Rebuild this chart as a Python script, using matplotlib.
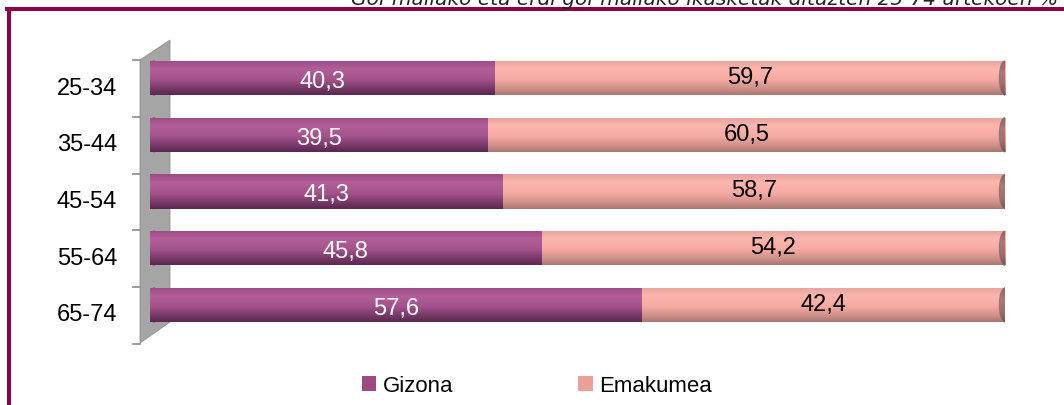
import numpy as np
import matplotlib
matplotlib.use('Agg')
import matplotlib.pyplot as plt
from matplotlib.patches import Ellipse, Polygon, Patch
from matplotlib.colors import LinearSegmentedColormap
from matplotlib.lines import Line2D
from matplotlib import font_manager
import matplotlib.transforms as mtransforms

categories = ['25-34', '35-44', '45-54', '55-64', '65-74']
gizona = [40.3, 39.5, 41.3, 45.8, 57.6]
emakumea = [59.7, 60.5, 58.7, 54.2, 42.4]
series_names = ['Gizona', 'Emakumea']
title = 'Goi-mailako eta erdi goi-mailako ikasketak dituzten 25-74 urtekoen %'

names = {f.name for f in font_manager.fontManager.ttflist}
narrow = 'Liberation Sans Narrow' if 'Liberation Sans Narrow' in names else 'Liberation Sans'

W, H = 1064, 405
fig = plt.figure(figsize=(W / 100, H / 100), dpi=100)


def fx(px):
    return px / W


def fy(py):
    return 1 - py / H


ax = fig.add_axes([fx(150), fy(343), fx(1005) - fx(150), (343 - 40) / H])
ax.axis('off')

purple_cmap = LinearSegmentedColormap.from_list(
    'p', [(0, '#9A4C84'), (0.25, '#B35E98'), (0.55, '#A3538C'), (0.85, '#723563'), (1, '#5A2850')])
pink_cmap = LinearSegmentedColormap.from_list(
    'k', [(0, '#E4A49C'), (0.25, '#FDB6AE'), (0.55, '#F5AAA2'), (0.85, '#C98C85'), (1, '#A87670')])
cap_cmap = LinearSegmentedColormap.from_list(
    'c', [(0, '#8E625E'), (0.35, '#A67A75'), (0.7, '#9C706B'), (1, '#7A5450')])

grad = np.linspace(0, 1, 120).reshape(-1, 1)

y = np.arange(len(categories))
bh = 0.6
b1 = ax.barh(y, gizona, height=bh, color='#A8558F', zorder=3)
b2 = ax.barh(y, emakumea, left=gizona, height=bh, color='#F8ADA5', zorder=3)


def shade(patch, cmap, x0, x1, y0, y1, z):
    im = ax.imshow(grad, cmap=cmap, extent=(x0, x1, y1, y0), origin='upper',
                   aspect='auto', zorder=z, interpolation='bilinear')
    im.set_clip_path(patch)
    im.set_clip_on(True)


for bars, cmap in ((b1, purple_cmap), (b2, pink_cmap)):
    for p in bars:
        shade(p, cmap, p.get_x(), p.get_x() + p.get_width(), p.get_y(), p.get_y() + p.get_height(), 3.5)

cap_w = 1.3
for i in range(len(categories)):
    # left rounded end
    le = Ellipse((0.45, y[i]), width=0.9, height=bh, color='#A8558F', zorder=3.2)
    ax.add_patch(le)
    shade(le, purple_cmap, 0, 0.9, y[i] - bh / 2, y[i] + bh / 2, 3.3)
    # right cap
    total = gizona[i] + emakumea[i]
    re = Ellipse((total, y[i]), width=cap_w, height=bh, color='#A07470', zorder=3.8)
    ax.add_patch(re)
    shade(re, cap_cmap, total - cap_w / 2, total + cap_w / 2, y[i] - bh / 2, y[i] + bh / 2, 3.9)

ax.set_xlim(0, 100)
ax.set_ylim(4.67, -0.67)

# grey wall
wall = Polygon([(fx(140), fy(60)), (fx(170), fy(40)), (fx(170), fy(322)), (fx(140), fy(343))],
               closed=True, transform=fig.transFigure, facecolor='#A5A5A5',
               edgecolor='#8F8F8F', lw=0.6, zorder=1, clip_on=False)
ax.add_patch(wall)

blend = mtransforms.blended_transform_factory(fig.transFigure, ax.transData)
for i in range(len(categories) + 1):
    yy = i - 0.315
    ax.add_line(Line2D([fx(133), fx(140)], [yy, yy], transform=blend, color='#8A8A8A',
                       lw=1.2, clip_on=False, zorder=2))

for i, c in enumerate(categories):
    ax.text(fx(117), i + 0.185, c, transform=blend, ha='right', va='center',
            fontsize=17, family=narrow, color='black')


def fmt(v):
    return f'{v:.1f}'.replace('.', ',')


for i in range(len(categories)):
    ax.text(gizona[i] / 2, y[i] + 0.07, fmt(gizona[i]), ha='center', va='center',
            fontsize=17, family=narrow, color='white', zorder=5)
    ax.text(gizona[i] + emakumea[i] / 2, y[i], fmt(emakumea[i]), ha='center', va='center',
            fontsize=17, family=narrow, color='black', zorder=5)

handles = [Patch(facecolor='#9E4A82', edgecolor='none'), Patch(facecolor='#E8A097', edgecolor='none')]
fig.legend(handles, series_names, loc='center left', bbox_to_anchor=(fx(362), fy(386)),
           ncol=2, frameon=False, prop={'family': narrow, 'size': 16},
           handlelength=0.65, handleheight=0.65, handletextpad=0.3, columnspacing=5.6,
           borderpad=0, borderaxespad=0)

fig.text(fx(1058), fy(5), title, ha='right', va='baseline', style='italic',
         fontsize=14.5, family='DejaVu Sans', color='#222222')

border = '#8E0045'
fig.add_artist(Line2D([fx(9), fx(9)], [fy(9), 0], transform=fig.transFigure, color=border, lw=2.9))
fig.add_artist(Line2D([fx(7), 1], [fy(9), fy(9)], transform=fig.transFigure, color=border, lw=2.9))

fig.savefig('out.png', dpi=100)
